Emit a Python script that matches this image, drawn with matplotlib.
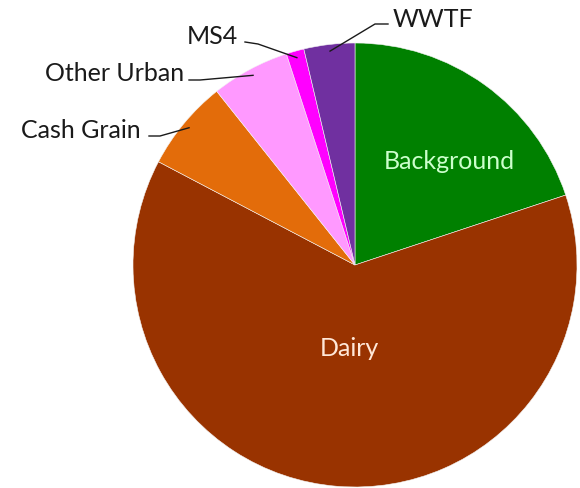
import numpy as np
import matplotlib.pyplot as plt

# shares (%), clockwise from 12 o'clock
labels = ["Background", "Dairy", "Cash Grain", "Other Urban", "MS4", "WWTF"]
values = [19.9, 62.8, 6.6, 5.7, 1.3, 3.7]
colors = ["#008000", "#993300", "#E36C0A", "#FF99FF", "#FF00FF", "#7030A0"]

W, H = 580, 489
cx, cy, R = 355, H - 266, 222

plt.rcParams['font.family'] = ['Lato', 'DejaVu Sans']

fig = plt.figure(figsize=(W / 100, H / 100), dpi=100)
ax = fig.add_axes([0, 0, 1, 1])

wedges, _ = ax.pie(values, colors=colors, startangle=90, counterclock=False,
                   center=(cx, cy), radius=R, frame=True,
                   wedgeprops=dict(linewidth=0.4, edgecolor='#f4f4f4'))
ax.set_xlim(0, W)
ax.set_ylim(0, H)
ax.set_aspect('equal')
ax.axis('off')

# inside labels
ax.text(449, H - 162, "Background", color="#CCFFCC", fontsize=18,
        ha='center', va='center')
ax.text(349, H - 349, "Dairy", color="#FFE8D8", fontsize=18,
        ha='center', va='center')

# outside labels with leader lines: (text x, text y, ha, elbow points)
outside = {
    "Cash Grain":  (141, 131, 'right', [(149, 137), (160, 137)]),
    "Other Urban": (184, 74, 'right', [(189, 81), (200, 81)]),
    "MS4":         (238, 37, 'right', [(245, 43), (258, 45)]),
    "WWTF":        (393, 20, 'left', [(388, 25), (375, 25)]),
}
for w, lab in zip(wedges, labels):
    if lab not in outside:
        continue
    tx, ty, ha, pts = outside[lab]
    ang = np.deg2rad((w.theta1 + w.theta2) / 2)
    ex = cx + 0.97 * R * np.cos(ang)
    ey = cy + 0.97 * R * np.sin(ang)
    xs = [p[0] for p in pts] + [ex]
    ys = [H - p[1] for p in pts] + [ey]
    ax.plot(xs, ys, color='#1a1a1a', lw=1.0)
    ax.text(tx, H - ty, lab, color='#1a1a1a', fontsize=18, ha=ha, va='center')

fig.savefig("out.png", dpi=100)
